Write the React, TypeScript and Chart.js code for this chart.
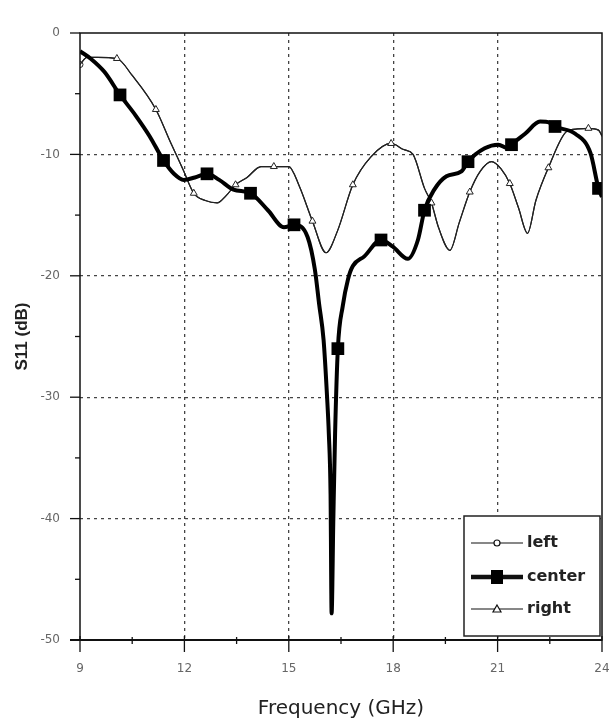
import React, { useEffect, useRef } from "react";
import { Chart, registerables } from "chart.js";

Chart.register(...registerables);

// ---- Data ----
const xTickLabels = [9, 12, 15, 18, 21, 24];
const yTickLabels = [0, -10, -20, -30, -40, -50];

const centerX = [9, 9.3, 9.7, 10.15, 10.6, 11.0, 11.4, 11.7, 11.98, 12.3, 12.65, 13.0, 13.41, 13.9, 14.4, 14.86, 15.15, 15.54, 15.75, 15.87, 16.0, 16.1, 16.15, 16.2, 16.23, 16.28, 16.33, 16.41, 16.55, 16.7, 16.84, 17.17, 17.65, 17.99, 18.42, 18.71, 18.9, 19.18, 19.53, 19.96, 20.15, 20.63, 21.02, 21.3, 21.4, 21.79, 22.22, 22.5, 22.65, 23.23, 23.67, 23.9, 24];
const centerY = [-1.5, -2.1, -3.2, -5.1, -6.8, -8.5, -10.5, -11.6, -12.1, -11.9, -11.6, -12.1, -12.9, -13.2, -14.6, -16.0, -15.8, -16.8, -19.5, -22.3, -25.3, -30, -33, -38, -47.8, -40, -33, -26, -22.5, -20.3, -19.2, -18.4, -17.05, -17.6, -18.6, -17.05, -14.6, -12.9, -11.8, -11.4, -10.6, -9.5, -9.2, -9.5, -9.2, -8.3, -7.3, -7.4, -7.7, -8.3, -9.9, -12.8, -13.5];
const centerMarkX = [10.15, 11.4, 12.65, 13.9, 15.15, 16.41, 17.65, 18.9, 20.15, 21.4, 22.65, 23.9];

const rightX = [9, 9.2, 9.5, 10.06, 10.5, 11.18, 11.6, 11.97, 12.27, 12.6, 12.94, 13.2, 13.47, 13.8, 14.2, 14.57, 15.0, 15.3, 15.68, 16.07, 16.4, 16.84, 17.36, 17.94, 18.3, 18.57, 18.9, 19.1, 19.3, 19.63, 19.9, 20.2, 20.5, 20.83, 21.1, 21.35, 21.6, 21.86, 22.1, 22.46, 22.99, 23.3, 23.61, 23.9, 24];
const rightY = [-2.6, -2.0, -2.0, -2.1, -3.5, -6.3, -9.0, -11.3, -13.2, -13.8, -14.0, -13.4, -12.5, -11.9, -11.0, -11.0, -11.0, -12.6, -15.5, -18.1, -16.3, -12.5, -10.2, -9.1, -9.6, -10.0, -12.8, -14.0, -16.0, -17.9, -15.6, -13.1, -11.4, -10.6, -11.2, -12.4, -14.4, -16.5, -13.8, -11.1, -8.1, -7.9, -7.85, -8.0, -8.5];
const rightMarkX = [10.06, 11.18, 12.27, 13.47, 14.57, 15.68, 16.84, 17.94, 19.1, 20.2, 21.35, 22.46, 23.61];

// "left" lies under "right" in the reference
const leftX = rightX;
const leftY = rightY;
const leftMarkX = [9];

const seriesNames = ["left", "center", "right"];

const FONT = "'DejaVu Sans', sans-serif";

const toPts = (xs: number[], ys: number[]) => xs.map((x, i) => ({ x, y: ys[i] }));

const frameAndTicks = {
  id: "frameAndTicks",
  afterDatasetsDraw(chart: any) {
    const { ctx, chartArea: a, scales } = chart;
    ctx.save();
    ctx.strokeStyle = "#111";
    ctx.lineWidth = 1.5;
    ctx.setLineDash([]);
    ctx.strokeRect(a.left, a.top, a.right - a.left, a.bottom - a.top);
    ctx.lineWidth = 2;
    ctx.beginPath();
    ctx.moveTo(a.left - 10, a.bottom);
    ctx.lineTo(a.right, a.bottom);
    ctx.stroke();
    ctx.lineWidth = 1.3;
    for (let v = 0; v >= -50; v -= 5) {
      const py = scales.y.getPixelForValue(v);
      const len = v % 10 === 0 ? 10 : 5;
      ctx.beginPath();
      ctx.moveTo(a.left - len, py);
      ctx.lineTo(a.left, py);
      ctx.stroke();
    }
    for (let v = 9; v <= 24.001; v += 1.5) {
      const px = scales.x.getPixelForValue(v);
      const major = Math.abs((v - 9) / 3 - Math.round((v - 9) / 3)) < 1e-6;
      ctx.beginPath();
      ctx.moveTo(px, a.bottom - (major ? 4 : 3));
      ctx.lineTo(px, a.bottom + (major ? 12 : 4));
      ctx.stroke();
    }
    ctx.restore();
  },
};

const legendBox = {
  id: "legendBox",
  afterDraw(chart: any) {
    const { ctx, chartArea: a } = chart;
    const w = 136, h = 120;
    const x0 = a.right - w - 2, y0 = a.bottom - h - 4;
    ctx.save();
    ctx.fillStyle = "#fff";
    ctx.fillRect(x0, y0, w, h);
    ctx.strokeStyle = "#222";
    ctx.lineWidth = 1.5;
    ctx.setLineDash([]);
    ctx.strokeRect(x0, y0, w, h);
    const rows = [27, 61, 93];
    seriesNames.forEach((name, i) => {
      const y = y0 + rows[i];
      const lx0 = x0 + 7, lx1 = x0 + 59, mx = x0 + 33;
      ctx.strokeStyle = "#111";
      ctx.lineWidth = i === 1 ? 4.5 : 1.2;
      ctx.beginPath();
      ctx.moveTo(lx0, y);
      ctx.lineTo(lx1, y);
      ctx.stroke();
      ctx.lineWidth = 1.2;
      if (i === 0) {
        ctx.fillStyle = "#fff";
        ctx.beginPath();
        ctx.arc(mx, y, 3, 0, Math.PI * 2);
        ctx.fill();
        ctx.stroke();
      } else if (i === 1) {
        ctx.fillStyle = "#000";
        ctx.fillRect(mx - 6, y - 7, 12, 14);
      } else {
        ctx.fillStyle = "#fff";
        ctx.beginPath();
        ctx.moveTo(mx, y - 4);
        ctx.lineTo(mx + 4, y + 3);
        ctx.lineTo(mx - 4, y + 3);
        ctx.closePath();
        ctx.fill();
        ctx.stroke();
      }
      ctx.fillStyle = "#222";
      ctx.font = `bold 16px ${FONT}`;
      ctx.textBaseline = "middle";
      ctx.textAlign = "left";
      ctx.fillText(name, x0 + 63, y);
    });
    ctx.restore();
  },
};

export default function App() {
  const ref = useRef<HTMLCanvasElement | null>(null);
  useEffect(() => {
    if (!ref.current) return;
    const markR = (xs: number[], marks: number[], r: number) => (c: any) =>
      marks.includes(xs[c.dataIndex]) ? r : 0;
    const chart = new Chart(ref.current, {
      type: "line",
      data: {
        datasets: [
          {
            label: seriesNames[0],
            data: toPts(leftX, leftY),
            borderColor: "#222",
            borderWidth: 1.2,
            pointStyle: "circle",
            pointRadius: markR(leftX, leftMarkX, 3) as any,
            pointBackgroundColor: "#fff",
            pointBorderColor: "#222",
            pointBorderWidth: 1,
            cubicInterpolationMode: "monotone",
            order: 3,
          },
          {
            label: seriesNames[2],
            data: toPts(rightX, rightY),
            borderColor: "#222",
            borderWidth: 1.2,
            pointStyle: "triangle",
            pointRadius: markR(rightX, rightMarkX, 4) as any,
            pointBackgroundColor: "#fff",
            pointBorderColor: "#222",
            pointBorderWidth: 1,
            cubicInterpolationMode: "monotone",
            order: 2,
          },
          {
            label: seriesNames[1],
            data: toPts(centerX, centerY),
            borderColor: "#000",
            borderWidth: 4,
            pointStyle: "rect",
            pointRadius: markR(centerX, centerMarkX, 9) as any,
            pointBackgroundColor: "#000",
            pointBorderColor: "#000",
            pointBorderWidth: 0,
            cubicInterpolationMode: "monotone",
            order: 1,
          },
        ],
      },
      options: {
        animation: false,
        responsive: false,
        maintainAspectRatio: false,
        layout: { autoPadding: false, padding: { left: 0, right: 10, top: 33, bottom: 0 } } as any,
        plugins: { legend: { display: false }, tooltip: { enabled: false } },
        elements: { point: { hoverRadius: 0 } },
        scales: {
          x: {
            type: "linear",
            min: 9,
            max: 24,
            afterFit: (s: any) => { s.height = 85; s.paddingLeft = 0; s.paddingRight = 0; },
            afterBuildTicks: (s: any) => { s.ticks = xTickLabels.map((v) => ({ value: v })); },
            border: { display: false, dash: [3, 4] },
            grid: {
              drawTicks: false,
              color: (c: any) => (c.tick && (c.tick.value === 9 || c.tick.value === 24) ? "rgba(0,0,0,0)" : "#444"),
              lineWidth: 1.3,
            } as any,
            ticks: {
              padding: 22,
              color: "#666",
              font: { family: FONT, size: 12 },
              maxRotation: 0,
            },
            title: {
              display: true,
              text: "Frequency (GHz)",
              color: "#222",
              font: { family: FONT, size: 20 },
              padding: { top: 0, bottom: 4 },
            },
          },
          y: {
            type: "linear",
            min: -50,
            max: 0,
            afterFit: (s: any) => { s.width = 80; s.paddingTop = 0; s.paddingBottom = 0; },
            afterBuildTicks: (s: any) => { s.ticks = yTickLabels.map((v) => ({ value: v })); },
            border: { display: false, dash: [3, 4] },
            grid: {
              drawTicks: false,
              color: (c: any) => (c.tick && (c.tick.value === 0 || c.tick.value === -50) ? "rgba(0,0,0,0)" : "#444"),
              lineWidth: 1.3,
            } as any,
            ticks: {
              padding: 20,
              color: "#666",
              font: { family: FONT, size: 12 },
              callback: (v: any) => String(v),
            },
            title: {
              display: true,
              text: "S11 (dB)",
              color: "#222",
              font: { family: "'Liberation Sans', Arial, sans-serif", size: 17, weight: "bold" },
              padding: { top: 12, bottom: 0 },
            },
          },
        },
      },
      plugins: [frameAndTicks, legendBox],
    });
    return () => chart.destroy();
  }, []);
  return (
    <div style={{ position: "fixed", left: 0, top: 0, width: 612, height: 725, background: "#fff" }}>
      <canvas ref={ref} width={612} height={725} style={{ width: 612, height: 725, display: "block" }} />
    </div>
  );
}
